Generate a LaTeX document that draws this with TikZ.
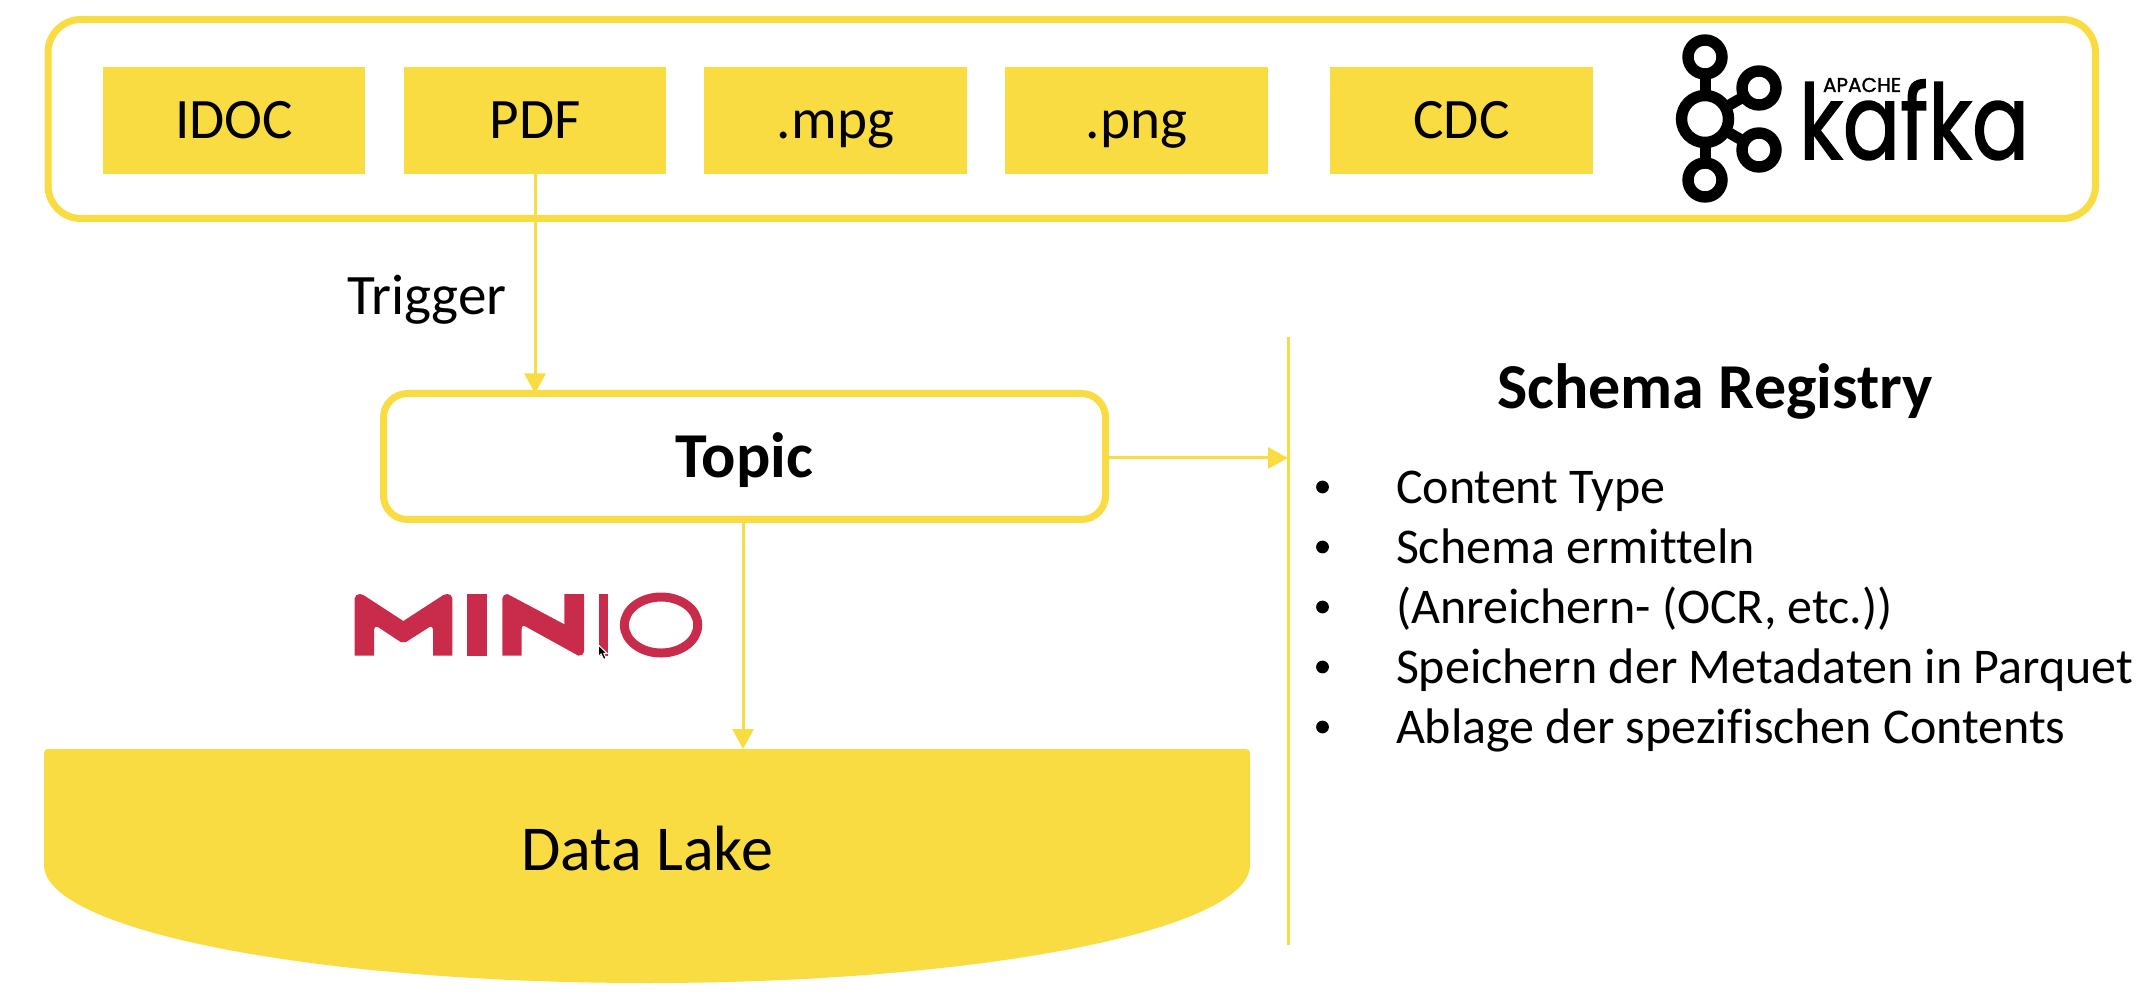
\documentclass[tikz,border=0pt]{standalone}
\usepackage{fontspec}
\setmainfont[Ligatures={NoCommon}]{Carlito}
\newfontfamily\kaf[FakeBold=1.5]{Poppins}
\usetikzlibrary{arrows.meta,calc}
\definecolor{ky}{HTML}{F9DB42}
\definecolor{mr}{HTML}{C92C4B}
\tikzset{
  x=0.5pt,y=-0.5pt,
  srcbox/.style={fill=ky,minimum width=131.25pt,minimum height=53.5pt,inner sep=0,outer sep=0,text height=20pt,text depth=1.5pt,font=\fontsize{28.6pt}{30pt}\selectfont,text=black},
  conn/.style={draw=ky,line width=1.5pt,-{Triangle[length=10pt,width=10.5pt]}},
  plainl/.style={draw=ky,line width=1.5pt},
  lbl/.style={inner sep=0,outer sep=0,anchor=base west,font=\fontsize{28.6pt}{30pt}\selectfont},
  item/.style={inner sep=0,outer sep=0,anchor=base west,font=\fontsize{25pt}{27pt}\selectfont},
  bul/.style={circle,fill=black,inner sep=0,minimum size=6.4pt},
  ring/.style={circle,draw=black,line width=5.7pt,fill=white,inner sep=0,outer sep=0},
  kstub/.style={draw=black,line width=5.5pt},
  mi/.style={fill=mr,draw=none},
}
\begin{document}
\begin{tikzpicture}
\useasboundingbox (0,0) rectangle (2140,999);
% outer frame
\node[draw=ky,line width=3.5pt,rounded corners=16.5pt,minimum width=1023.75pt,minimum height=99.5pt,inner sep=0,outer sep=0] (frame) at (1071.75,119) {};
% sources
\node[srcbox] (idoc) at (234,120.5) {IDOC};
\node[srcbox] (pdf) at (535,120.5) {PDF};
\node[srcbox] (mpg) at (835.5,120.5) {.mpg};
\node[srcbox] (png) at (1136.5,120.5) {.png};
\node[srcbox] (cdc) at (1461.5,120.5) {CDC};
% topic
\node[draw=ky,line width=3.5pt,rounded corners=12pt,minimum width=361pt,minimum height=63pt,inner sep=0,outer sep=0,text height=23pt,text depth=1.5pt,font=\bfseries\fontsize{32pt}{34pt}\selectfont] (topic) at (744.5,456.5) {Topic};
% data lake
\fill[ky] (44,753) arc[start angle=180,end angle=270,radius=4] -- (1246,749) arc[start angle=-90,end angle=0,radius=4] -- (1250,865) arc[start angle=0,end angle=180,x radius=603,y radius=118] -- cycle;
\node[inner sep=0,outer sep=0,anchor=base,font=\fontsize{32pt}{34pt}\selectfont] (lake) at (647,870) {Data Lake};
\coordinate (lakein) at (743,749);
\coordinate (vt) at (1288,337);
\coordinate (vb) at (1288,945);
\node[lbl] (trigger) at (347,315) {Trigger};
% connectors
\draw[conn] (pdf.south) -- (pdf.south |- topic.north);
\draw[conn] (lakein |- topic.south) -- (lakein);
\draw[plainl] (vt) -- (vb);
\draw[conn] ([yshift=-0.75pt]topic.east) -- ([yshift=-0.75pt]topic.east -| vt);
% schema registry
\node[inner sep=0,outer sep=0,anchor=base,font=\bfseries\fontsize{32pt}{34pt}\selectfont] (sr) at (1715,409) {Schema Registry};
\foreach \n/\yy/\t in {a/503/Content Type,b/563/Schema ermitteln,c/623/{(Anreichern- (OCR, etc.))},d/683/Speichern der Metadaten in Parquet,e/743/Ablage der spezifischen Contents}{
  \node[item] (it\n) at (1396,\yy) {\t};
  \node[bul] (bu\n) at (1322.5,\yy-16) {};
}
% kafka logo
\node[ring,minimum size=23.5pt] (kc) at (1705,119) {};
\node[ring,minimum size=17pt] (kt) at (1705,57) {};
\node[ring,minimum size=17pt] (kb) at (1705,180) {};
\node[ring,minimum size=17pt] (kr) at (1759,88) {};
\node[ring,minimum size=17pt] (ks) at (1759,150) {};
\draw[kstub] (kc) -- (kt);
\draw[kstub] (kc) -- (kb);
\draw[kstub] (kc) -- (kr);
\draw[kstub] (kc) -- (ks);
\node[inner sep=0,outer sep=0,anchor=base west,font=\kaf\fontsize{10pt}{10pt}\selectfont] (apache) at (1823,92) {APACHE};
\node[inner sep=0,outer sep=0,anchor=base west,font=\kaf\fontsize{52pt}{52pt}\selectfont] (kafka) at (1799,159) {\scalebox{0.817}[1]{kafka}};
% minio logo
\begin{scope}[shift={(320,560)},x=0.1667pt,y=-0.1667pt]
\fill[mi] (104,287) -- (104,115) to[out=90,in=180] (120,102) -- (130,105) -- (250,183) -- (370,105) -- (382,102) to[out=0,in=90] (397,115) -- (397,287) -- (339,287) -- (339,208) to[out=90,in=30] (330,200) -- (258,246) -- (242,246) -- (172,200) to[out=150,in=90] (162,208) -- (162,287) -- cycle;
\fill[mi] (442,102) rectangle (501,287);
\fill[mi] (547,287) -- (547,115) to[out=90,in=180] (562,102) -- (733,193) -- (733,102) -- (792,102) -- (792,275) to[out=-90,in=0] (775,287) -- (612,197) to[out=180,in=90] (605,205) -- (605,287) -- cycle;
\fill[mi] (838,102) rectangle (865,287);
\draw[mr,line width=4.5pt] (1023,195) ellipse[x radius=110,y radius=84];
\fill[black,draw=white,line width=0.5pt] (835,255) -- (835,290) -- (843,282) -- (851,298) -- (858,295) -- (851,280) -- (861,280) -- cycle;
\end{scope}
\end{tikzpicture}
\end{document}
